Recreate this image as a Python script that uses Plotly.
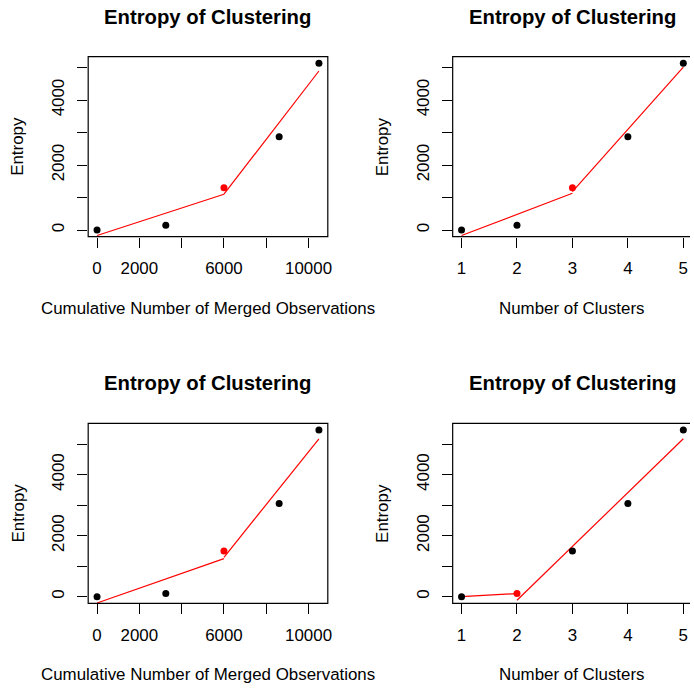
import plotly.graph_objects as go

W, H = 694, 688

# ---------------- data ----------------
merged_obs = [0, 3250, 6000, 8610, 10490]
clusters = [1, 2, 3, 4, 5]
entropy_top = [0, 145, 1300, 2870, 5130]
entropy_bottom = [0, 100, 1500, 3050, 5465]

red_idx_top_left = 2
red_idx_top_right = 2
red_idx_bottom_left = 2
red_idx_bottom_right = 1

# fitted (red) segments, end points
fit_tl_a_x = [0, 6000]
fit_tl_a_y = [-168, 1100]
fit_tl_b_x = [6000, 10490]
fit_tl_b_y = [1105, 4895]
fit_tr_a_x = [1, 3]
fit_tr_a_y = [-168, 1132]
fit_tr_b_x = [3, 5]
fit_tr_b_y = [1185, 5015]
fit_bl_a_x = [0, 6000]
fit_bl_a_y = [-210, 1245]
fit_bl_b_x = [6000, 10490]
fit_bl_b_y = [1290, 5175]
fit_br_a_x = [1, 2]
fit_br_a_y = [0, 100]
fit_br_b_x = [2, 5]
fit_br_b_y = [-118, 5176]

obs_ticks = [0, 2000, 4000, 6000, 8000, 10000]
obs_tick_labels = ["0", "2000", "", "6000", "", "10000"]
cluster_ticks = [1, 2, 3, 4, 5]
cluster_tick_labels = ["1", "2", "3", "4", "5"]
entropy_ticks = [0, 1000, 2000, 3000, 4000, 5000]
entropy_tick_labels = ["0", "", "2000", "", "4000", ""]

title_text = "Entropy of Clustering"
ylab_text = "Entropy"
xlab_obs = "Cumulative Number of Merged Observations"
xlab_clusters = "Number of Clusters"

FONT = "Liberation Sans, Arial, Helvetica, sans-serif"
FS = 16.9
TFS = 20.3

# ---------------- panel geometry (pixels) ----------------
LEFT_BOX = (88.7, 329.7)
RIGHT_BOX = (455.3, 696.2)
TOP_BOX = (56.7, 236.7)
BOT_BOX = (423.3, 603.3)


def r_range(vals):
    lo, hi = min(vals), max(vals)
    pad = 0.04 * (hi - lo)
    return [lo - pad, hi + pad]


def px_x(p):
    return p / W


def px_y(p):
    return 1 - p / H


fig = go.Figure()

panels = [
    (LEFT_BOX, TOP_BOX, merged_obs, entropy_top, red_idx_top_left,
     [(fit_tl_a_x, fit_tl_a_y), (fit_tl_b_x, fit_tl_b_y)], obs_ticks, obs_tick_labels, xlab_obs),
    (RIGHT_BOX, TOP_BOX, clusters, entropy_top, red_idx_top_right,
     [(fit_tr_a_x, fit_tr_a_y), (fit_tr_b_x, fit_tr_b_y)], cluster_ticks, cluster_tick_labels, xlab_clusters),
    (LEFT_BOX, BOT_BOX, merged_obs, entropy_bottom, red_idx_bottom_left,
     [(fit_bl_a_x, fit_bl_a_y), (fit_bl_b_x, fit_bl_b_y)], obs_ticks, obs_tick_labels, xlab_obs),
    (RIGHT_BOX, BOT_BOX, clusters, entropy_bottom, red_idx_bottom_right,
     [(fit_br_a_x, fit_br_a_y), (fit_br_b_x, fit_br_b_y)], cluster_ticks, cluster_tick_labels, xlab_clusters),
]

annotations = []
shapes = []
for i, (xb, yb, xv, yv, red, fits, xt, xtl, xlab) in enumerate(panels):
    n = "" if i == 0 else str(i + 1)
    xr = r_range(xv)
    yr = r_range(yv)
    x0p, x1p = xb
    vis_right = min(x1p, W)
    xr_vis = [xr[0], xr[0] + (vis_right - x0p) / (x1p - x0p) * (xr[1] - xr[0])]

    colors = ["black"] * len(xv)
    colors[red] = "red"

    for fx, fy in fits:
        fig.add_trace(go.Scatter(x=fx, y=fy, mode="lines",
                                 line=dict(color="red", width=1.2),
                                 xaxis="x" + n, yaxis="y" + n, showlegend=False,
                                 hoverinfo="skip"))
    fig.add_trace(go.Scatter(x=xv, y=yv, mode="markers",
                             marker=dict(color=colors, size=7, line=dict(width=0)),
                             xaxis="x" + n, yaxis="y" + n, showlegend=False))

    axis_common = dict(showgrid=False, zeroline=False, showline=False,
                       ticks="outside", ticklen=10, tickwidth=1, tickcolor="black",
                       tickfont=dict(family=FONT, size=FS, color="black"))
    fig.layout["xaxis" + n] = dict(
        domain=[px_x(x0p), px_x(vis_right)], range=xr_vis, anchor="y" + n,
        tickmode="array", tickvals=xt, ticktext=xtl, ticklabelstandoff=6,
        **axis_common)
    fig.layout["yaxis" + n] = dict(
        domain=[px_y(yb[1]), px_y(yb[0])], range=yr, anchor="x" + n,
        tickmode="array", tickvals=entropy_ticks, ticktext=entropy_tick_labels,
        tickangle=-90, ticklabelstandoff=6, **axis_common)

    # plot frame (open on the right when it runs past the page edge)
    xa, xb_ = px_x(x0p), px_x(vis_right)
    ya, yb_ = px_y(yb[1]), px_y(yb[0])
    if x1p > W:
        path = f"M {xb_},{ya} L {xa},{ya} L {xa},{yb_} L {xb_},{yb_}"
    else:
        path = f"M {xa},{ya} L {xb_},{ya} L {xb_},{yb_} L {xa},{yb_} Z"
    shapes.append(dict(type="path", xref="paper", yref="paper", path=path,
                       line=dict(color="black", width=1.2), layer="above"))

    cx = (x0p + x1p) / 2
    cy = (yb[0] + yb[1]) / 2
    annotations.append(dict(text="<b>" + title_text + "</b>", xref="paper", yref="paper",
                            x=px_x(cx), y=px_y(yb[0] - 40), xanchor="center", yanchor="middle",
                            showarrow=False, font=dict(family=FONT, size=TFS, color="black")))
    annotations.append(dict(text=xlab, xref="paper", yref="paper",
                            x=px_x(cx), y=px_y(yb[1] + 71.5), xanchor="center", yanchor="middle",
                            showarrow=False, font=dict(family=FONT, size=FS, color="black")))
    annotations.append(dict(text=ylab_text, xref="paper", yref="paper", textangle=-90,
                            x=px_x(x0p - 70.5), y=px_y(cy), xanchor="center", yanchor="middle",
                            showarrow=False, font=dict(family=FONT, size=FS, color="black")))

fig.update_layout(width=W, height=H, margin=dict(l=0, r=0, t=0, b=0),
                  paper_bgcolor="white", plot_bgcolor="white",
                  annotations=annotations, shapes=shapes, showlegend=False)

fig.write_html("out.html", config={"displayModeBar": False},
               post_script=("document.documentElement.style.overflow='hidden';"
                            "document.body.style.overflow='hidden';"
                            "document.body.style.margin='0';document.body.style.padding='0';"))
